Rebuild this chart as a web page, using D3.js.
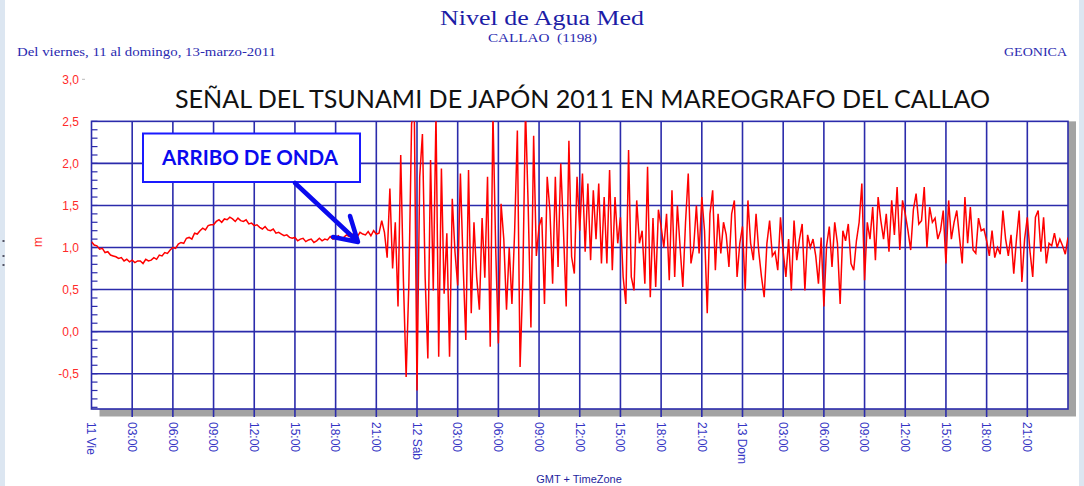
<!DOCTYPE html>
<meta charset="utf-8">
<html>
<script src="https://d3js.org/d3.v7.min.js"></script>
<style>
  body { margin: 0; background: #fff; }
  text { font-family: "Liberation Sans", Arial, sans-serif; }
</style>
<body>
<div id="chart"></div>
<script>

    // tide gauge readings in metres, one every 12 minutes (0.2 h)
    const stepHours = 0.2;

    // Viernes 11 (from 00:00)
    const levelVie = [
      1.07, 1.03, 1.02, 0.98, 0.99,  0.94, 0.95, 0.91, 0.90, 0.89,
      0.87, 0.88, 0.84, 0.86, 0.83,  0.85, 0.82, 0.84, 0.84, 0.81,
      0.86, 0.84, 0.85, 0.88, 0.86,  0.91, 0.90, 0.94, 0.93, 0.97,
      1.00, 0.99, 1.04, 1.06, 1.05,  1.11, 1.12, 1.10, 1.17, 1.16,
      1.20, 1.23, 1.21, 1.26, 1.27,  1.27, 1.31, 1.33, 1.30, 1.34,
      1.33, 1.36, 1.34, 1.31, 1.35,  1.32, 1.31, 1.33, 1.28, 1.29,
      1.26, 1.27, 1.24, 1.22, 1.25,  1.21, 1.20, 1.22, 1.17, 1.18,
      1.16, 1.14, 1.15, 1.12, 1.11,  1.12, 1.08, 1.10, 1.11, 1.07,
      1.09, 1.10, 1.06, 1.08, 1.11,  1.08, 1.10, 1.09, 1.13, 1.10,
      1.11, 1.14, 1.11, 1.12, 1.15,  1.13, 1.16, 1.14, 1.13, 1.18,
      1.16, 1.15, 1.19, 1.14, 1.20,  1.16, 1.17, 1.32, 1.18, 0.88,
      1.70, 0.75, 1.30, 0.30, 2.10,  0.60, -0.54, 0.57, 2.47, 2.65
    ];

    // Sabado 12 (from 00:00)
    const levelSab = [
      -0.70, 1.84, 2.35, 0.65, -0.32,  2.04, 0.49, 2.60, -0.30, 1.94,
      0.45, 1.17, -0.30, 1.58, 0.95,  0.55, 1.88, 0.80, -0.10, 1.92,
      0.22, 1.30, 0.65, 0.26, 1.35,  0.64, 1.84, -0.18, 2.60, 1.00,
      -0.14, 1.52, 1.10, 0.26, 1.00,  0.33, 1.20, 2.39, -0.42, 0.60,
      2.65, 1.48, 0.05, 2.33, 0.90,  1.25, 1.36, 0.33, 1.84, 1.44,
      0.57, 1.84, 0.77, 2.00, 1.20,  0.30, 2.27, 0.89, 0.69, 1.84,
      1.20, 1.88, 0.95, 1.76, 0.85,  1.68, 1.10, 1.76, 0.81, 1.60,
      0.81, 1.92, 0.73, 1.60, 1.05,  1.36, 0.65, 0.33, 2.16, 0.65,
      0.49, 1.56, 1.05, 1.20, 0.57,  1.96, 0.41, 1.35, 0.53, 1.45,
      1.25, 1.00, 1.40, 0.61, 1.68,  0.65, 1.50, 1.00, 0.53, 1.30,
      1.88, 0.81, 1.00, 1.50, 0.93,  1.60, 1.20, 0.22, 1.40, 1.68,
      0.73, 1.40, 0.93, 1.30, 1.15,  0.77, 1.40, 1.56, 0.65, 1.05
    ];

    // Domingo 13 (from 00:00)
    const levelDom = [
      1.25, 0.49, 1.56, 1.05, 0.85,  1.40, 0.95, 0.65, 0.41, 1.05,
      1.32, 0.90, 0.95, 0.73, 1.36,  0.95, 0.65, 1.10, 0.49, 1.32,
      0.85, 1.10, 1.28, 0.49, 1.15,  1.00, 1.10, 0.90, 0.57, 1.12,
      0.30, 1.02, 1.25, 0.77, 1.30,  1.05, 0.33, 1.20, 1.08, 1.28,
      0.81, 0.73, 1.08, 1.30, 1.76,  0.61, 1.30, 1.10, 1.48, 0.85,
      1.60, 1.32, 1.10, 1.40, 0.95,  1.56, 1.15, 1.72, 0.97, 1.56,
      1.40, 1.20, 0.97, 1.45, 1.64,  1.28, 1.32, 1.72, 1.00, 1.48,
      1.30, 1.35, 1.10, 1.20, 1.44,  0.81, 1.56, 1.10, 1.30, 1.44,
      1.12, 0.81, 1.60, 1.05, 1.48,  0.97, 0.93, 1.35, 1.20, 1.22,
      1.08, 0.90, 1.20, 0.88, 1.00,  0.92, 1.44, 1.10, 0.90, 1.15,
      0.69, 1.10, 1.44, 0.59, 1.10,  1.36, 0.95, 0.65, 1.36, 1.44,
      0.95, 1.36, 0.81, 1.05, 1.02,  1.17, 1.00, 1.10, 1.02, 0.92,
      1.12
    ];

    const dayStarts = [0, 24, 48];
    const tickHours = d3.range(0, 72, 3);
    const tickLabels = [
      "11 Vie", "03:00", "06:00", "09:00", "12:00", "15:00", "18:00", "21:00",
      "12 Sáb", "03:00", "06:00", "09:00", "12:00", "15:00", "18:00", "21:00",
      "13 Dom", "03:00", "06:00", "09:00", "12:00", "15:00", "18:00", "21:00"
    ];
    const yTicks = [-0.5, 0, 0.5, 1, 1.5, 2, 2.5, 3];
    const gridLevels = [-0.5, 0, 0.5, 1, 1.5, 2];

    const width = 1084,
        height = 486;

    const x = d3.scaleLinear().domain([0, 72]).range([91.5, 1068]);
    const y = d3.scaleLinear().domain([-0.92, 3.0]).range([409, 79.3]);

    const gridColor = "#2b2bab";
    const plotLeft = x(0), plotRight = x(72), plotTop = y(2.5), plotBottom = y(-0.92);

    const svg = d3.select("#chart")
      .append("svg")
        .attr("width", width)
        .attr("height", height);

    svg.append("rect").attr("width", width).attr("height", height).attr("fill", "white");

    // light blue page edges
    svg.append("rect").attr("x", 0).attr("y", 0).attr("width", 5).attr("height", height).attr("fill", "#dce6f1");
    svg.append("rect").attr("x", 1079).attr("y", 0).attr("width", 5).attr("height", height).attr("fill", "#dce6f1");
    svg.selectAll(".dot")
      .data([240, 255, 264])
      .join("rect")
        .attr("x", 2.5).attr("y", d => d).attr("width", 2).attr("height", 2)
        .attr("fill", "#556");

    // headers
    svg.append("text")
      .attr("x", 440).attr("y", 25)
      .attr("textLength", 204).attr("lengthAdjust", "spacingAndGlyphs")
      .style("font-family", "'Liberation Serif', serif").style("font-size", "21px")
      .attr("fill", "#1c1ca6")
      .text("Nivel de Agua Med");
    svg.append("text")
      .attr("x", 488).attr("y", 42)
      .attr("textLength", 109).attr("lengthAdjust", "spacingAndGlyphs")
      .style("font-family", "'Liberation Serif', serif").style("font-size", "12px")
      .style("white-space", "pre")
      .attr("fill", "#2a2ab0")
      .text("CALLAO  (1198)");
    svg.append("text")
      .attr("x", 17).attr("y", 56)
      .attr("textLength", 259).attr("lengthAdjust", "spacingAndGlyphs")
      .style("font-family", "'Liberation Serif', serif").style("font-size", "12px")
      .attr("fill", "#2a2ab0")
      .text("Del viernes, 11 al domingo, 13-marzo-2011");
    svg.append("text")
      .attr("x", 1004).attr("y", 56)
      .attr("textLength", 63).attr("lengthAdjust", "spacingAndGlyphs")
      .style("font-family", "'Liberation Serif', serif").style("font-size", "12px")
      .attr("fill", "#2a2ab0")
      .text("GEONICA");

    // shadow + plot box
    svg.append("rect")
      .attr("x", plotLeft + 8).attr("y", plotTop)
      .attr("width", plotRight - plotLeft).attr("height", plotBottom - plotTop + 7.5)
      .attr("fill", "#a3a3a3");
    svg.append("rect")
      .attr("x", plotLeft).attr("y", plotTop)
      .attr("width", plotRight - plotLeft).attr("height", plotBottom - plotTop)
      .attr("fill", "white");

    // grid
    svg.selectAll(".hgrid")
      .data(gridLevels)
      .join("line")
        .attr("x1", plotLeft).attr("x2", plotRight)
        .attr("y1", d => y(d)).attr("y2", d => y(d))
        .attr("stroke", gridColor).attr("stroke-width", 1.6);
    svg.selectAll(".vgrid")
      .data(tickHours.slice(1))
      .join("line")
        .attr("x1", d => x(d)).attr("x2", d => x(d))
        .attr("y1", plotTop).attr("y2", plotBottom + 8)
        .attr("stroke", gridColor).attr("stroke-width", 1.6);

    // minor ticks on the inside of the left axis
    svg.selectAll(".minor")
      .data(d3.range(-9, 26).map(d => d / 10))
      .join("line")
        .attr("x1", plotLeft).attr("x2", plotLeft + 6)
        .attr("y1", d => y(d)).attr("y2", d => y(d))
        .attr("stroke", gridColor).attr("stroke-width", 1.2);

    svg.append("rect")
      .attr("x", plotLeft).attr("y", plotTop)
      .attr("width", plotRight - plotLeft).attr("height", plotBottom - plotTop)
      .attr("fill", "none").attr("stroke", gridColor).attr("stroke-width", 1.6);

    // signal
    const points = [];
    [levelVie, levelSab, levelDom].forEach(function(vals, k) {
      vals.forEach(function(v, i) { points.push({t: dayStarts[k] + i * stepHours, v: v}); });
    });

    svg.append("clipPath").attr("id", "plotclip")
      .append("rect")
        .attr("x", plotLeft).attr("y", plotTop)
        .attr("width", plotRight - plotLeft).attr("height", plotBottom - plotTop);

    const line = d3.line()
      .x(d => x(d.t))
      .y(d => y(d.v));

    svg.append("path")
      .datum(points)
      .attr("clip-path", "url(#plotclip)")
      .attr("d", line)
      .attr("fill", "none")
      .attr("stroke", "#ff0000")
      .attr("stroke-width", 1.5);

    // y labels
    svg.selectAll(".ylab")
      .data(yTicks)
      .join("text")
        .attr("x", 79).attr("y", d => y(d))
        .attr("dy", "0.35em")
        .attr("text-anchor", "end")
        .style("font-size", "12px")
        .attr("fill", "#ff2a2a")
        .text(d => d3.format(".1f")(d).replace(".", ",").replace("−", "-"));
    svg.append("line")
      .attr("x1", 82).attr("x2", 85).attr("y1", y(3)).attr("y2", y(3))
      .attr("stroke", "#bbb");
    svg.append("text")
      .attr("transform", "translate(42,242) rotate(-90)")
      .attr("text-anchor", "middle")
      .style("font-size", "12px")
      .attr("fill", "#ff2a2a")
      .text("m");

    // x labels, rotated
    svg.selectAll(".xlab")
      .data(tickHours)
      .join("text")
        .attr("transform", d => `translate(${x(d)},422) rotate(90)`)
        .attr("dy", "0.35em")
        .style("font-size", "12px")
        .attr("fill", "#3434c4")
        .text((d, i) => tickLabels[i]);

    svg.append("text")
      .attr("x", 579).attr("y", 483)
      .attr("text-anchor", "middle")
      .style("font-size", "11px")
      .attr("fill", "#1f1fa0")
      .text("GMT + TimeZone");

    // overlay title
    svg.append("text")
      .attr("x", 175).attr("y", 108)
      .attr("textLength", 815).attr("lengthAdjust", "spacingAndGlyphs")
      .style("font-family", "Lato, 'Open Sans', sans-serif").style("font-size", "25px")
      .attr("fill", "#111")
      .text("SEÑAL DEL TSUNAMI DE JAPÓN 2011 EN MAREOGRAFO DEL CALLAO");

    // annotation
    svg.append("rect")
      .attr("x", 143).attr("y", 133.5)
      .attr("width", 217).attr("height", 48.5)
      .attr("fill", "white").attr("stroke", "#1a1aff").attr("stroke-width", 2);
    svg.append("text")
      .attr("x", 162).attr("y", 164.5)
      .attr("textLength", 176).attr("lengthAdjust", "spacingAndGlyphs")
      .style("font-family", "Lato, 'Open Sans', sans-serif").style("font-size", "21px").style("font-weight", "bold")
      .attr("fill", "#0a0aee")
      .text("ARRIBO DE ONDA");
    svg.append("path")
      .attr("d", "M295,183 L357,241 M350,216 L358,242 L333,237")
      .attr("fill", "none")
      .attr("stroke", "#0a0aee")
      .attr("stroke-width", 4.5)
      .attr("stroke-linecap", "round")
      .attr("stroke-linejoin", "round");

</script>
</body>
</html>
